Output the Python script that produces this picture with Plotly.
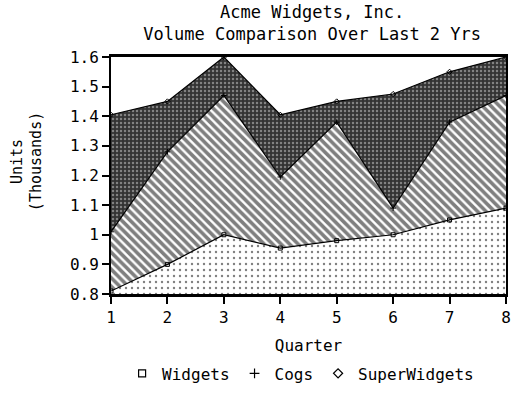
import plotly.graph_objects as go

# Quarterly unit volumes (thousands), stacked
quarters = [1, 2, 3, 4, 5, 6, 7, 8]
widgets = [0.81, 0.90, 1.00, 0.955, 0.98, 1.00, 1.05, 1.09]
cogs = [0.20, 0.38, 0.47, 0.24, 0.40, 0.09, 0.33, 0.38]
superwidgets = [0.395, 0.17, 0.13, 0.21, 0.07, 0.385, 0.17, 0.13]

series_names = ["Widgets", "Cogs", "SuperWidgets"]
y_ticks = [0.8, 0.9, 1.0, 1.1, 1.2, 1.3, 1.4, 1.5, 1.6]
y_tick_text = ["0.8", "0.9", "1", "1.1", "1.2", "1.3", "1.4", "1.5", "1.6"]

FONT = "DejaVu Sans Mono"

fig = go.Figure()

patterns = [
    dict(shape=".", fgcolor="black", bgcolor="white", size=6, solidity=0.12),
    dict(shape="\\", fgcolor="black", bgcolor="white", size=6, solidity=0.6),
    dict(shape=".", fgcolor="#cfcfcf", bgcolor="#333333", size=4, solidity=0.3),
]
symbols = ["square-open", "cross-thin-open", "diamond-open"]

for name, vals, pat, sym in zip(series_names, [widgets, cogs, superwidgets], patterns, symbols):
    fig.add_trace(go.Scatter(
        x=quarters, y=vals, name=name, stackgroup="vol",
        mode="lines+markers",
        line=dict(color="black", width=1.2),
        marker=dict(symbol=sym, size=4, color="black", line=dict(width=1, color="black")),
        fillpattern=pat, fillcolor=pat["bgcolor"],
        showlegend=False,
    ))

# Legend keys showing only the marker symbols
for name, sym in zip(series_names, symbols):
    fig.add_trace(go.Scatter(
        x=[None], y=[None], name=name, mode="markers",
        marker=dict(symbol=sym, size=7, color="black", line=dict(width=1.2, color="black")),
    ))

fig.update_layout(
    width=516, height=395,
    margin=dict(l=111, r=5, t=57, b=95),
    paper_bgcolor="white", plot_bgcolor="white",
    font=dict(family=FONT, size=15, color="black"),
    title=dict(
        text="Acme Widgets, Inc.<br>Volume Comparison Over Last 2 Yrs",
        x=0.605, xanchor="center", y=0.955, yanchor="top",
        font=dict(family=FONT, size=17),
    ),
    xaxis=dict(
        range=[1, 8], tickvals=quarters, ticks="outside", ticklen=7, tickwidth=1.5,
        tickcolor="black", showgrid=False, zeroline=False,
        showline=True, linecolor="black", linewidth=3, mirror=True,
        title=dict(text="Quarter", standoff=14, font=dict(family=FONT, size=16)),
        tickfont=dict(family=FONT, size=16),
    ),
    yaxis=dict(
        range=[0.8, 1.6], tickvals=y_ticks, ticktext=y_tick_text, ticks="outside",
        ticklen=7, tickwidth=1.5, tickcolor="black", showgrid=False, zeroline=False,
        showline=True, linecolor="black", linewidth=2, mirror=True,
        tickfont=dict(family=FONT, size=16),
    ),
    legend=dict(
        orientation="h", traceorder="normal", x=0.48, xanchor="center", y=-0.335,
        yanchor="middle", font=dict(family=FONT, size=16), itemwidth=30,
        bgcolor="rgba(0,0,0,0)",
    ),
    annotations=[
        dict(text="Units<br>(Thousands)", xref="paper", yref="paper",
             x=-0.213, y=0.56, xanchor="center", yanchor="middle", textangle=-90,
             showarrow=False, font=dict(family=FONT, size=15)),
    ],
)

fig.write_html("out.html")
